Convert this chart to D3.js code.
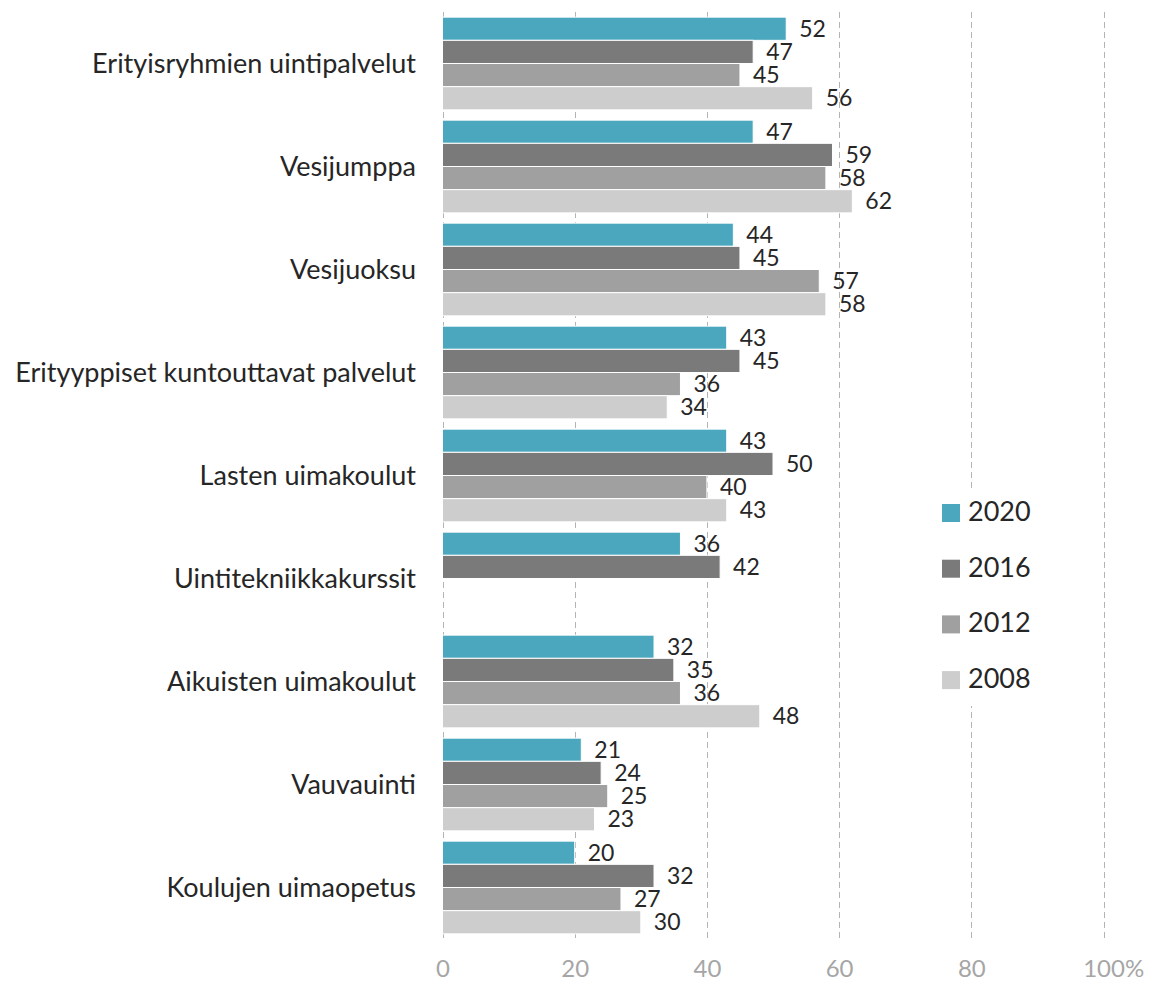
<!doctype html>
<html>
<head>
<meta charset="utf-8"/>
<script src="https://d3js.org/d3.v7.min.js"></script>
<style>
  body { margin: 0; background: #fff; }
  text { font-family: Lato, "Open Sans", sans-serif; }
</style>
</head>
<body>
<svg id="chart"></svg>
<script>
var categories = ["Erityisryhmien uintipalvelut", "Vesijumppa", "Vesijuoksu",
  "Erityyppiset kuntouttavat palvelut", "Lasten uimakoulut", "Uintitekniikkakurssit",
  "Aikuisten uimakoulut", "Vauvauinti", "Koulujen uimaopetus"];
var years = ["2020", "2016", "2012", "2008"];
var v2020 = [52, 47, 44, 43, 43, 36, 32, 21, 20];
var v2016 = [47, 59, 45, 45, 50, 42, 35, 24, 32];
var v2012 = [45, 58, 57, 36, 40, null, 36, 25, 27];
var v2008 = [56, 62, 58, 34, 43, null, 48, 23, 30];
var xTicks = [0, 20, 40, 60, 80, 100];
var colors = ["#4ba7bd", "#7a7a7a", "#a0a0a0", "#cdcdcd"];

var series = [v2020, v2016, v2012, v2008];
var width = 1150, height = 987;

var svg = d3.select("#chart").attr("width", width).attr("height", height);

var x = d3.scaleLinear().domain([0, 100]).range([442.5, 1103.5]);
var y = d3.scaleBand().domain(categories).range([12, 939])
  .paddingInner(0.1).paddingOuter(0.05);
var yInner = d3.scaleBand().domain(years).range([0, y.bandwidth()]);
var color = d3.scaleOrdinal().domain(years).range(colors);

// gridlines (dashed)
svg.append("g").selectAll("line")
  .data(xTicks)
  .enter().append("line")
  .attr("x1", function(d) { return Math.round(x(d)) + 0.5; })
  .attr("x2", function(d) { return Math.round(x(d)) + 0.5; })
  .attr("y1", 12).attr("y2", 938)
  .attr("stroke", "#b4b4b4")
  .attr("stroke-width", 1)
  .attr("stroke-dasharray", "6,4");

// x axis labels
var xAxis = d3.axisBottom(x).tickValues(xTicks).tickSize(0).tickPadding(0)
  .tickFormat(function(d) { return d; });
var ax = svg.append("g").attr("transform", "translate(0,960)").call(xAxis);
ax.select(".domain").remove();
ax.selectAll("text")
  .attr("fill", "#a6a6a6")
  .style("font-size", "24px")
  .attr("dy", "0.72em");
ax.selectAll(".tick").filter(function(d) { return d === 100; })
  .append("text")
  .attr("x", 21).attr("dy", "0.72em")
  .attr("fill", "#a6a6a6")
  .style("font-size", "24px")
  .attr("text-anchor", "start")
  .text("%");

// rows
var rows = [];
categories.forEach(function(c, i) {
  years.forEach(function(yr, j) {
    if (series[j][i] != null) rows.push({cat: c, year: yr, value: series[j][i]});
  });
});

svg.append("g").selectAll("rect")
  .data(rows)
  .enter().append("rect")
  .attr("x", x(0))
  .attr("y", function(d) { return y(d.cat) + yInner(d.year); })
  .attr("width", function(d) { return x(d.value) - x(0); })
  .attr("height", yInner.bandwidth())
  .attr("fill", function(d) { return color(d.year); })
  .attr("stroke", "#fff")
  .attr("stroke-width", 1);

svg.append("g").selectAll("text")
  .data(rows)
  .enter().append("text")
  .attr("x", function(d) { return x(d.value) + 13; })
  .attr("y", function(d) { return y(d.cat) + yInner(d.year) + yInner.bandwidth() / 2 + 2; })
  .attr("dominant-baseline", "middle")
  .attr("fill", "#262626")
  .style("font-size", "23px")
  .text(function(d) { return d.value; });

// category labels
svg.append("g").selectAll("text")
  .data(categories)
  .enter().append("text")
  .attr("x", 416)
  .attr("y", function(d) { return y(d) + y.bandwidth() / 2 + 3; })
  .attr("text-anchor", "end")
  .attr("dominant-baseline", "middle")
  .attr("fill", "#262626")
  .style("font-size", "27px")
  .text(function(d) { return d; });

// legend
var legend = svg.append("g");
legend.append("rect")
  .attr("x", 930).attr("y", 488).attr("width", 115).attr("height", 218)
  .attr("fill", "#fff");
var li = legend.selectAll("g.item")
  .data(years)
  .enter().append("g")
  .attr("class", "item")
  .attr("transform", function(d, i) { return "translate(942," + (513 + i * 55.7) + ")"; });
li.append("rect")
  .attr("x", 0).attr("y", -9).attr("width", 18).attr("height", 18)
  .attr("fill", function(d) { return color(d); });
li.append("text")
  .attr("x", 26).attr("y", 1)
  .attr("dominant-baseline", "middle")
  .attr("fill", "#262626")
  .style("font-size", "27px")
  .text(function(d) { return d; });
</script>
</body>
</html>
